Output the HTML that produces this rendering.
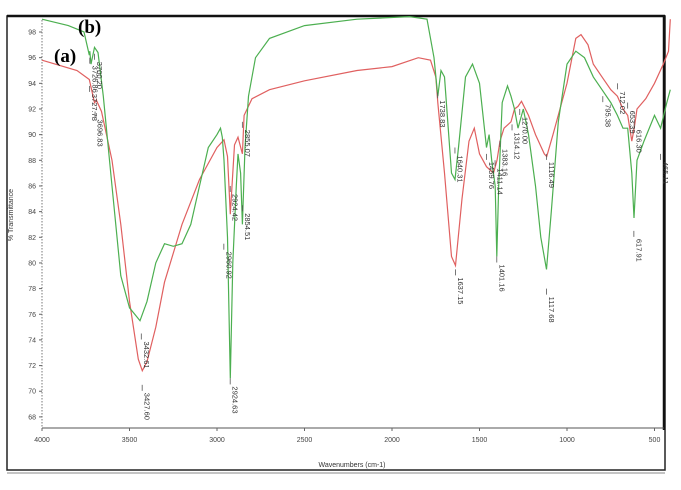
<!DOCTYPE html>
<html><head><meta charset="utf-8"><style>
html,body{margin:0;padding:0;background:#fff;width:681px;height:490px;overflow:hidden}
svg{display:block}
text{font-family:"Liberation Sans",sans-serif}
</style></head><body>
<svg id="chart" width="681" height="490" viewBox="0 0 681 490" xmlns="http://www.w3.org/2000/svg">
<rect x="7" y="16" width="658" height="454" fill="none" stroke="#222" stroke-width="1.5"/>
<line x1="7" y1="16" x2="665" y2="16" stroke="#111" stroke-width="2.5"/>
<line x1="664" y1="16" x2="664" y2="430" stroke="#111" stroke-width="2.5"/>
<line x1="7" y1="473" x2="665" y2="473" stroke="#888" stroke-width="1"/>
<g id="axes"></g>
<g id="series"></g>
<g id="labels"></g>
<text x="54" y="62" font-weight="bold" font-size="19" style="font-family:'Liberation Serif',serif">(a)</text>
<text x="78" y="33" font-weight="bold" font-size="19" style="font-family:'Liberation Serif',serif">(b)</text>
<text x="352" y="467" font-size="7" fill="#333" text-anchor="middle">Wavenumbers (cm-1)</text>
<text x="13" y="215" font-size="7" fill="#333" text-anchor="middle" transform="rotate(-90 13 215)">% Transmittance</text>
</svg>
<script>
const xTicks=[4000,3500,3000,2500,2000,1500,1000,500];
const yTicks=[68,70,72,74,76,78,80,82,84,86,88,90,92,94,96,98];
const wnA=[4000,3800,3730,3700,3690,3660,3600,3550,3500,3450,3427,3400,3350,3300,3200,3100,3000,2960,2940,2924,2900,2880,2855,2845,2800,2700,2500,2200,2000,1850,1780,1750,1738,1700,1660,1637,1600,1560,1530,1500,1460,1420,1400,1383,1360,1320,1300,1280,1260,1220,1180,1130,1116,1080,1000,950,920,880,850,800,750,712,680,653,630,616,600,550,500,450,420,410];
const tA=[95.8,95,94.3,92.5,92.7,91.8,88,83,77,72.5,71.6,72.3,75,78.5,83,86.5,89,89.6,88.3,83.8,89.2,89.8,88.5,91.5,92.8,93.5,94.2,95,95.3,96,95.8,94.5,92.5,87,80.5,79.8,85,89.5,90.5,88.5,87.5,87,88,89.5,90.5,91,92,92.2,92.6,91.5,90,88.5,88.3,90,94,97.5,97.8,97,95.5,94.5,93.5,93,92,91.5,89.5,90.5,92,92.8,94,95.5,96.5,99];
const wnB=[4000,3850,3760,3730,3727,3720,3700,3680,3650,3600,3550,3500,3440,3400,3350,3300,3250,3200,3150,3100,3050,3000,2980,2970,2960,2940,2924,2910,2890,2880,2865,2855,2840,2820,2780,2700,2500,2200,1900,1800,1760,1738,1720,1700,1660,1640,1620,1580,1540,1500,1460,1445,1430,1410,1401,1390,1370,1340,1320,1300,1280,1250,1220,1180,1150,1117,1090,1050,1000,950,900,850,800,750,712,680,653,630,617,600,560,500,465,430,410];
const tB=[99,98.5,98,96.2,96.5,95.5,96.8,96.4,93,86,79,76.5,75.5,77,80,81.5,81.3,81.5,83,86,89,90,90.5,89.8,88,82,71,80,86,88.5,87,83,89,93,96,97.5,98.5,99,99.2,99,96,93,95,94.5,87,86.5,89,94.5,95.5,94,89,90,88,86,80.5,86,92.5,93.8,93,92,90.5,92,90,86,82,79.5,84,91,95.5,96.5,96,94.5,93.5,92.5,91.5,90.5,90.5,87,83.5,88,89.5,91.5,90.5,92.5,93.5];
const peakLabels=["3727.78","3726.86","3696.83","3700.20","2960.92","2924.42","2924.63","2854.51","2855.07","3432.61","3427.60","1738.83","1640.31","1637.15","1459.76","1411.14","1401.16","1383.16","1314.12","1270.00","1116.49","1117.68","795.38","712.02","653.39","616.30","617.91","465.11"];
const peakWn=[3727.78,3726.86,3696.83,3700.20,2960.92,2924.42,2924.63,2854.51,2855.07,3432.61,3427.60,1738.83,1640.31,1637.15,1459.76,1411.14,1401.16,1383.16,1314.12,1270.00,1116.49,1117.68,795.38,712.02,653.39,616.30,617.91,465.11];
const peakT=[93.8,96,91.8,96.3,81.5,86,71,84.5,91,74.5,70.5,93.3,89,79.5,88.5,88,80.5,89.5,90.8,92,88.5,78,93,94,92.5,91,82.5,88.5];

const X=w=>42+(4000-w)*0.175;
const Y=t=>32+(98-t)*12.83;
const NS="http://www.w3.org/2000/svg";
function mk(tag,attrs,parent){const e=document.createElementNS(NS,tag);for(const k in attrs)e.setAttribute(k,attrs[k]);parent.appendChild(e);return e;}
const ax=document.getElementById('axes');
let l=mk('line',{x1:42,y1:20,x2:42,y2:428,stroke:'#777','stroke-dasharray':'1.5,1.5','stroke-width':1},ax);


l=mk('line',{x1:42,y1:428,x2:664,y2:428,stroke:'#555','stroke-width':1},ax);


yTicks.forEach(v=>{
  const t=mk('line',{x1:39,y1:Y(v),x2:42,y2:Y(v),stroke:'#666'},ax);
  
  
  const tx=mk('text',{x:36,y:Y(v)+2.5,'font-size':7,fill:'#444','text-anchor':'end'},ax);
  tx.textContent=v;
  
  
});
xTicks.forEach(v=>{
  const t=mk('line',{x1:X(v),y1:428,x2:X(v),y2:431,stroke:'#666'},ax);
  
  
  const tx=mk('text',{x:X(v),y:442,'font-size':7,fill:'#444','text-anchor':'middle'},ax);
  tx.textContent=v;
  
  
});
const sg=document.getElementById('series');
function path(wn,t){return wn.map((w,i)=>(i?'L':'M')+X(w).toFixed(1)+','+Y(t[i]).toFixed(1)).join(' ');}
let p=mk('path',{d:path(wnA,tA),fill:'none',stroke:'#e06060','stroke-width':1.2},sg);


p=mk('path',{d:path(wnB,tB),fill:'none',stroke:'#4caf50','stroke-width':1.2},sg);


const lg=document.getElementById('labels');
peakLabels.forEach((s,i)=>{
  const x=X(peakWn[i]),y=Y(peakT[i]);
  const ln=mk('line',{x1:x,y1:y,x2:x,y2:y+6,stroke:'#555','stroke-width':0.8},lg);
  
  
  const tx=mk('text',{x:x+2.5,y:y+8,'font-size':7.5,fill:'#333',transform:`rotate(90 ${x+2.5} ${y+8})`},lg);
  tx.textContent=s;
  
  
});
</script>
</body></html>
